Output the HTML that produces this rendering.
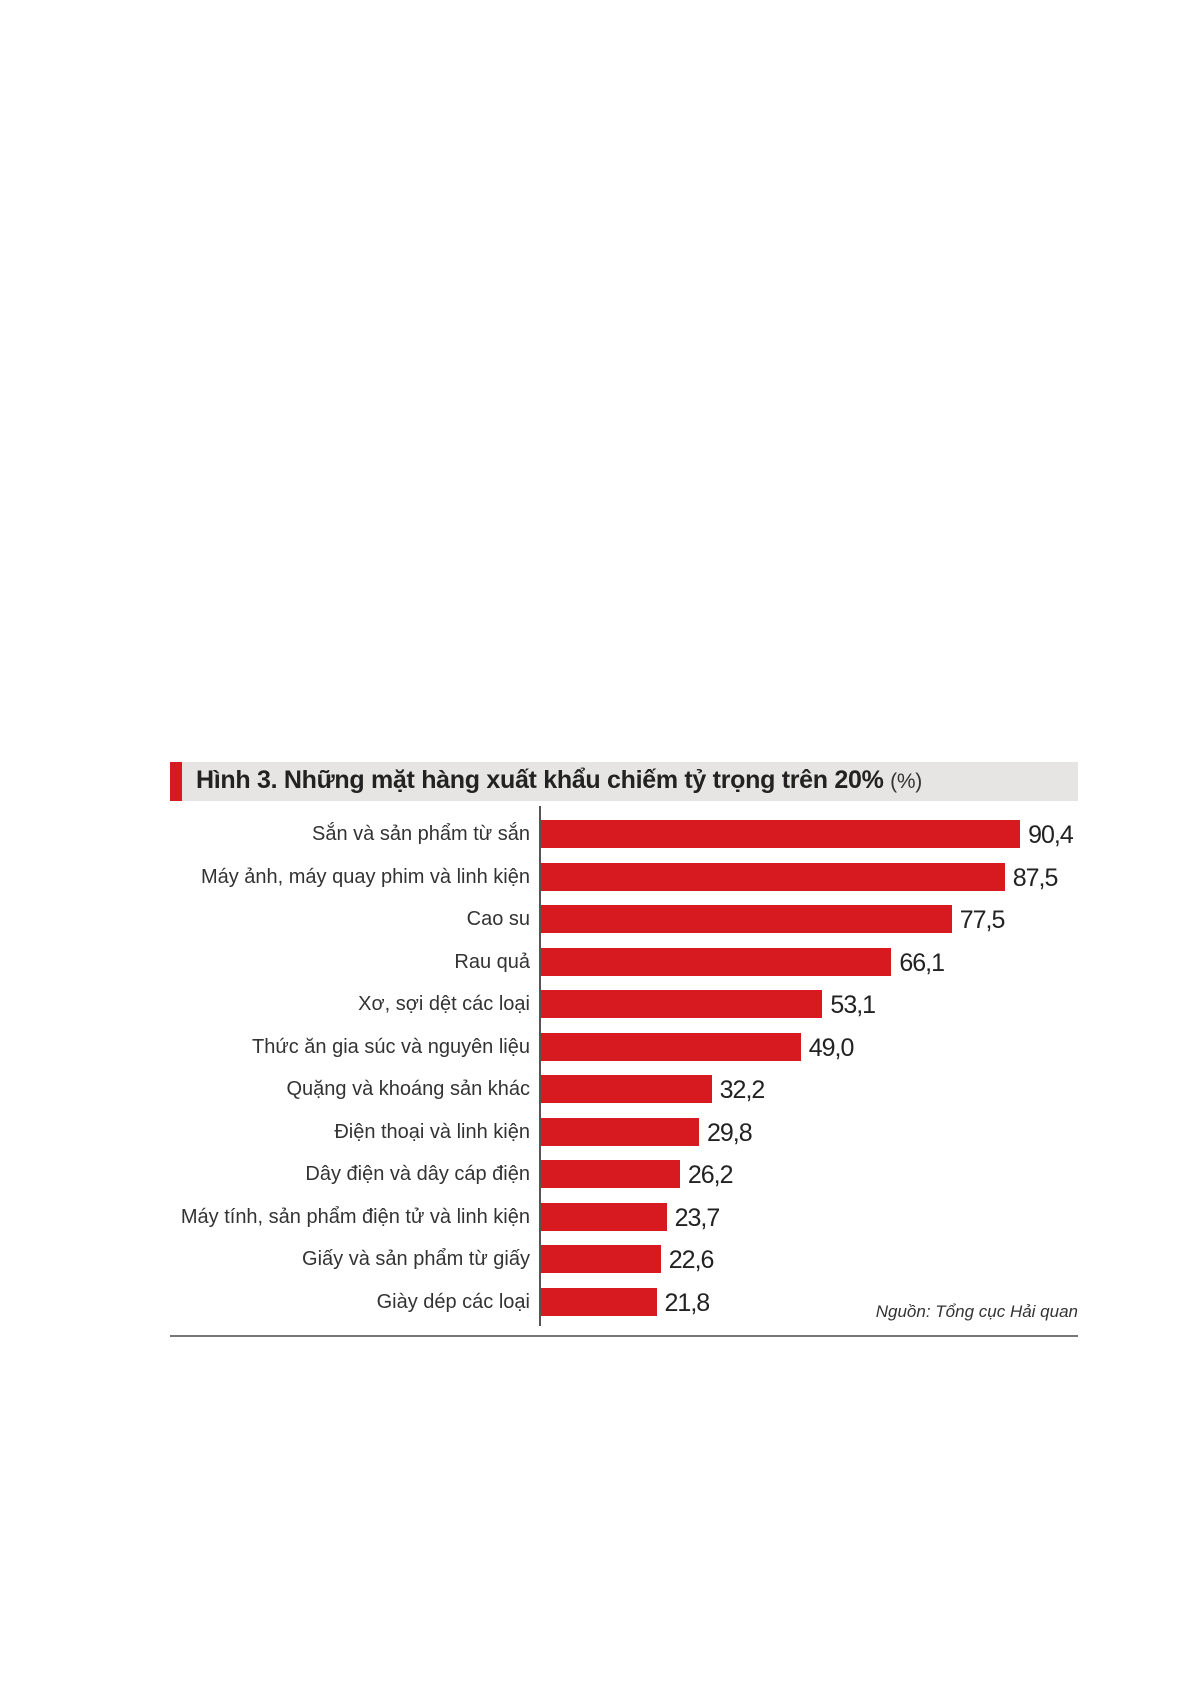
<!DOCTYPE html>
<html><head><meta charset="utf-8"><style>
body{margin:0;width:1192px;height:1685px;background:#fff;position:relative;font-family:"Liberation Sans",sans-serif;overflow:hidden}
.hd{position:absolute;left:170px;top:762px;width:908px;height:39px;background:#e6e5e3}
.rb{position:absolute;left:170px;top:762px;width:12px;height:39px;background:#d71920}
.tt{position:absolute;left:196px;top:766px;font-size:25px;font-weight:bold;color:#222;white-space:nowrap;letter-spacing:-0.3px}
.tt span{font-weight:normal;font-size:21px;color:#333}
.ax{position:absolute;left:539px;top:806px;width:1.5px;height:520px;background:#555}
.lb{position:absolute;right:662px;font-size:20px;color:#333;white-space:nowrap;line-height:28px}
.bar{position:absolute;left:541px;height:28px;background:#d71920}
.v{position:absolute;font-size:25px;color:#222;line-height:28px;letter-spacing:-1px}
.src{position:absolute;right:114px;top:1302px;font-size:17px;font-style:italic;color:#333}
.bl{position:absolute;left:170px;top:1335px;width:908px;height:2px;background:#777}
</style></head><body>
<div class="hd"></div><div class="rb"></div>
<div class="tt">Hình 3. Những mặt hàng xuất khẩu chiếm tỷ trọng trên 20% <span>(%)</span></div>
<div class="ax"></div>
<div id="c"></div>
<div class="src">Nguồn: Tổng cục Hải quan</div>
<div class="bl"></div>
<script>
var d=[["Sắn và sản phẩm từ sắn",90.4],["Máy ảnh, máy quay phim và linh kiện",87.5],["Cao su",77.5],["Rau quả",66.1],["Xơ, sợi dệt các loại",53.1],["Thức ăn gia súc và nguyên liệu",49.0],["Quặng và khoáng sản khác",32.2],["Điện thoại và linh kiện",29.8],["Dây điện và dây cáp điện",26.2],["Máy tính, sản phẩm điện tử và linh kiện",23.7],["Giấy và sản phẩm từ giấy",22.6],["Giày dép các loại",21.8]];
var h="";d.forEach(function(r,i){var y=820+i*42.5,w=r[1]*5.3;
h+='<div class="lb" style="top:'+y+'px">'+r[0]+'</div><div class="bar" style="top:'+y+'px;width:'+w+'px"></div><div class="v" style="top:'+(y+1)+'px;left:'+(541+w+8)+'px">'+r[1].toFixed(1).replace(".",",")+'</div>';});
document.getElementById("c").innerHTML=h;
</script>
</body></html>
